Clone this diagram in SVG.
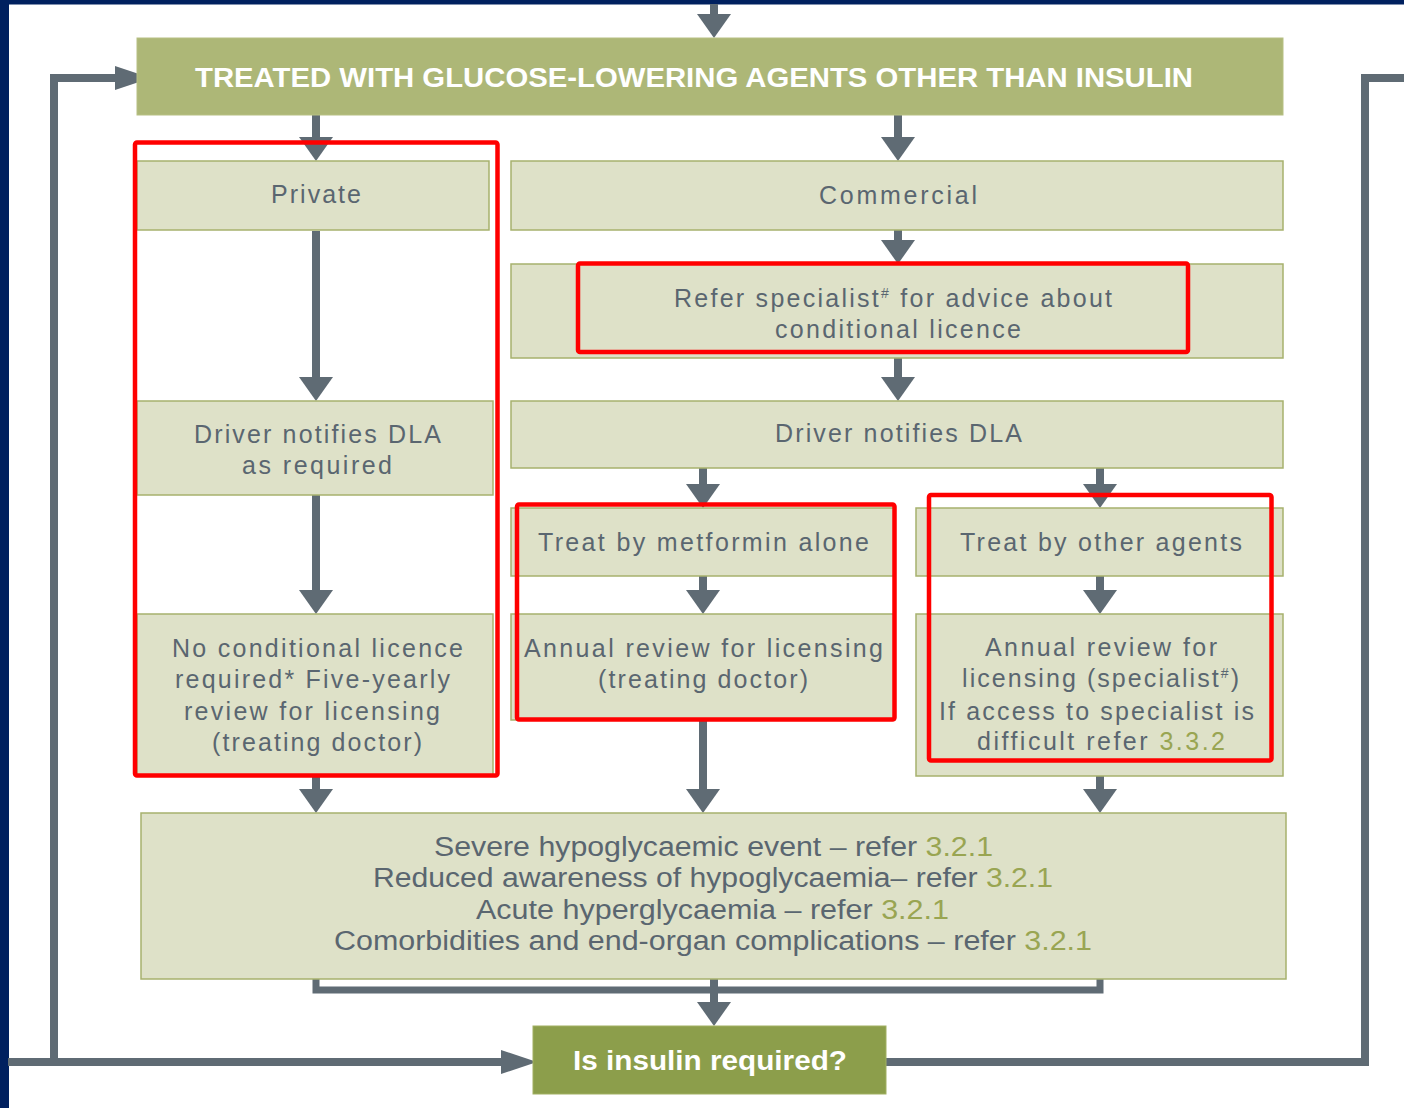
<svg xmlns="http://www.w3.org/2000/svg" width="1404" height="1108" viewBox="0 0 1404 1108">
<defs>
<style>
.box{fill:#dee1c8;stroke:#a7b16d;stroke-width:1.5}
.t{font-family:"Liberation Sans",Arial,sans-serif;font-size:25px;fill:#5a6670}
.tb{font-family:"Liberation Sans",Arial,sans-serif;font-size:27px;fill:#5a6670}
.ref{fill:#99a552}
.sup{font-size:14px}
.w{font-family:"Liberation Sans",Arial,sans-serif;font-weight:bold;fill:#ffffff}
.c{fill:none;stroke:#5f6b74;stroke-width:8;stroke-linejoin:miter}
.cv{marker-end:url(#arrV)}
.ch{marker-end:url(#arrH)}
.hl{fill:none;stroke:#ff0000;stroke-width:4.5}
</style>
<marker id="arrV" markerUnits="userSpaceOnUse" markerWidth="24" markerHeight="34" viewBox="0 0 24 34" refX="1" refY="17" orient="auto">
<path d="M0,0 L24,17 L0,34 Z" fill="#5f6b74"/>
</marker>
<marker id="arrH" markerUnits="userSpaceOnUse" markerWidth="36" markerHeight="24" viewBox="0 0 36 24" refX="1" refY="12" orient="auto">
<path d="M0,0 L36,12 L0,24 Z" fill="#5f6b74"/>
</marker>
</defs>
<rect x="0" y="0" width="1404" height="1108" fill="#ffffff"/>
<rect x="0" y="0" width="1404" height="4.5" fill="#00205f"/>
<rect x="0" y="0" width="9" height="1108" fill="#00205f"/>

<g id="connectors">
<path class="c cv" d="M714,4 V15"/>
<path class="c cv" d="M316,115 V138"/>
<path class="c cv" d="M898,115 V138"/>
<path class="c cv" d="M898,230 V241"/>
<path class="c cv" d="M898,358 V378"/>
<path class="c cv" d="M316,231 V378"/>
<path class="c cv" d="M316,495 V591"/>
<path class="c cv" d="M703,468 V485"/>
<path class="c cv" d="M1100,468 V485"/>
<path class="c cv" d="M703,576 V591"/>
<path class="c cv" d="M1100,576 V591"/>
<path class="c cv" d="M316,775 V790"/>
<path class="c cv" d="M703,720 V790"/>
<path class="c cv" d="M1100,776 V790"/>
<path class="c" style="stroke-width:7" d="M316,979 V990 H1100 V979"/>
<path class="c cv" d="M714,979 V1003"/>
<path class="c ch" d="M54,1062 V78 H116"/>
<path class="c ch" d="M8,1062 H502"/>
<path class="c" d="M886,1062 H1365 V78 H1404"/>
</g>

<g id="header">
<rect x="137" y="38" width="1146" height="77" fill="#adb777" stroke="#b7c084" stroke-width="1"/>
<text class="w" x="195" y="87" font-size="27" textLength="998" lengthAdjust="spacingAndGlyphs">TREATED WITH GLUCOSE-LOWERING AGENTS OTHER THAN INSULIN</text>
</g>

<g id="private">
<rect class="box" x="137" y="161" width="352" height="69"/>
<text class="t" x="271" y="203" textLength="90">Private</text>
</g>

<g id="commercial">
<rect class="box" x="511" y="161" width="772" height="69"/>
<text class="t" x="819" y="204" textLength="158">Commercial</text>
</g>

<g id="refer-specialist">
<rect class="box" x="511" y="264" width="772" height="94"/>
<text class="t" x="674" y="307" textLength="438">Refer specialist<tspan class="sup" dy="-9">#</tspan><tspan dy="9"> for advice about</tspan></text>
<text class="t" x="775" y="338" textLength="246">conditional licence</text>
</g>

<g id="driver-notifies-dla">
<rect class="box" x="511" y="401" width="772" height="67"/>
<text class="t" x="775" y="442" textLength="247">Driver notifies DLA</text>
</g>

<g id="driver-notifies-dla-as-required">
<rect class="box" x="137" y="401" width="356" height="94"/>
<text class="t" x="194" y="443" textLength="247">Driver notifies DLA</text>
<text class="t" x="242" y="474" textLength="150">as required</text>
</g>

<g id="no-conditional-licence">
<rect class="box" x="137" y="614" width="356" height="161"/>
<text class="t" x="172" y="657" textLength="291">No conditional licence</text>
<text class="t" x="175" y="688" textLength="275">required* Five-yearly</text>
<text class="t" x="184" y="720" textLength="256">review for licensing</text>
<text class="t" x="212" y="751" textLength="210">(treating doctor)</text>
</g>

<g id="treat-metformin">
<rect class="box" x="511" y="508" width="384" height="68"/>
<text class="t" x="538" y="551" textLength="331">Treat by metformin alone</text>
</g>

<g id="annual-review-treating">
<rect class="box" x="511" y="614" width="384" height="106"/>
<text class="t" x="524" y="657" textLength="359">Annual review for licensing</text>
<text class="t" x="598" y="688" textLength="210">(treating doctor)</text>
</g>

<g id="treat-other-agents">
<rect class="box" x="916" y="508" width="367" height="68"/>
<text class="t" x="960" y="551" textLength="282">Treat by other agents</text>
</g>

<g id="annual-review-specialist">
<rect class="box" x="916" y="614" width="367" height="162"/>
<text class="t" x="985" y="656" textLength="232">Annual review for</text>
<text class="t" x="962" y="687" textLength="277">licensing (specialist<tspan class="sup" dy="-9">#</tspan><tspan dy="9">)</tspan></text>
<text class="t" x="939" y="720" textLength="315">If access to specialist is</text>
<text class="t" x="977" y="750" textLength="248">difficult refer <tspan class="ref">3.3.2</tspan></text>
</g>

<g id="complications">
<rect class="box" x="141" y="813" width="1145" height="166"/>
<text class="tb" x="434" y="856" textLength="559" lengthAdjust="spacingAndGlyphs">Severe hypoglycaemic event – refer <tspan class="ref">3.2.1</tspan></text>
<text class="tb" x="373" y="887" textLength="680" lengthAdjust="spacingAndGlyphs">Reduced awareness of hypoglycaemia– refer <tspan class="ref">3.2.1</tspan></text>
<text class="tb" x="476" y="919" textLength="473" lengthAdjust="spacingAndGlyphs">Acute hyperglycaemia – refer <tspan class="ref">3.2.1</tspan></text>
<text class="tb" x="334" y="950" textLength="758" lengthAdjust="spacingAndGlyphs">Comorbidities and end-organ complications – refer <tspan class="ref">3.2.1</tspan></text>
</g>

<g id="insulin-required">
<rect x="533" y="1026" width="353" height="68" fill="#8c9e4b" stroke="#a1b063" stroke-width="1"/>
<text class="w" x="573" y="1070" font-size="28" textLength="274" lengthAdjust="spacingAndGlyphs">Is insulin required?</text>
</g>

<g id="highlights">
<rect class="hl" x="135" y="142.5" width="362.5" height="633" rx="2"/>
<rect class="hl" x="578" y="263.5" width="610" height="88.5" rx="2"/>
<rect class="hl" x="517" y="504.5" width="377.5" height="215" rx="2"/>
<rect class="hl" x="929" y="495" width="342.5" height="265.5" rx="2"/>
</g>
</svg>
